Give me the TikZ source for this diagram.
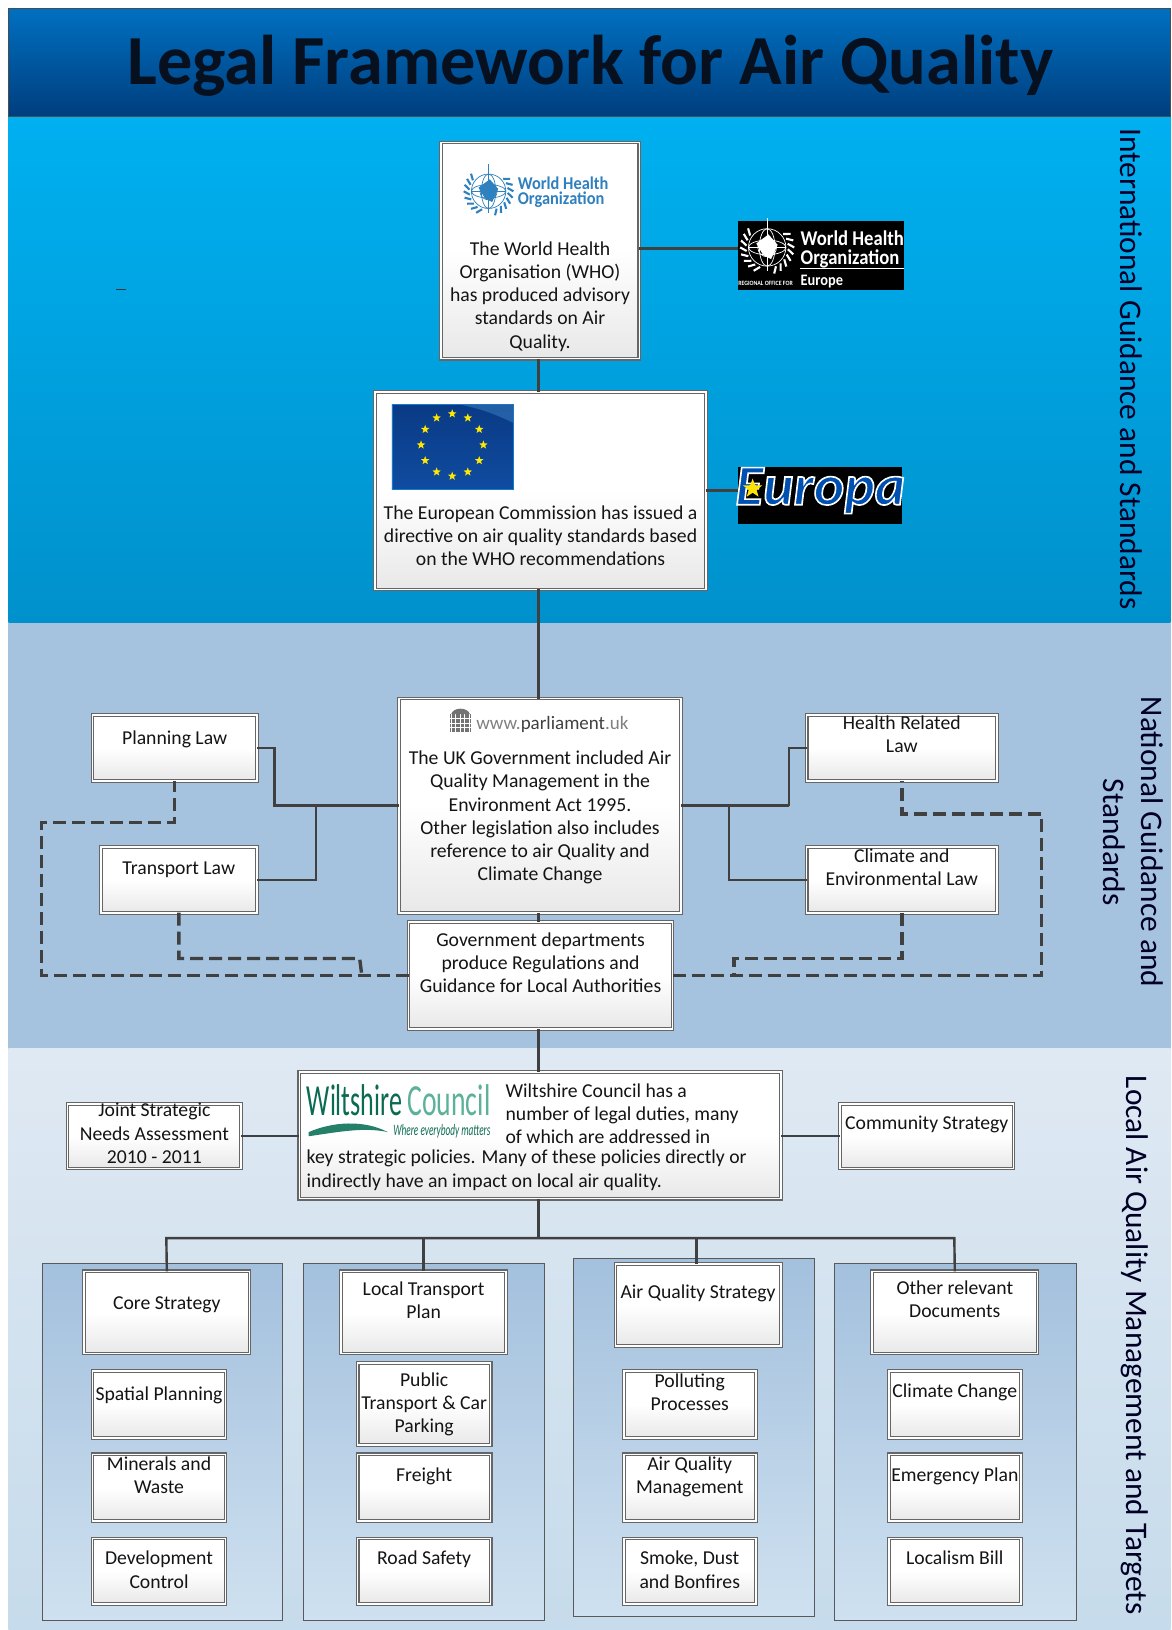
\documentclass[tikz,border=0pt]{standalone}
\usepackage{fontspec}
\usepackage{graphicx}
\setmainfont{Carlito}
\usetikzlibrary{shapes.geometric,calc}
\definecolor{lineg}{HTML}{404040}
\definecolor{txtc}{HTML}{141414}
\definecolor{whob}{HTML}{2E80BE}
\definecolor{wgreen}{HTML}{0B6B52}
\definecolor{wlight}{HTML}{5DB19A}
\definecolor{cHa}{HTML}{0070C0}
\definecolor{cHb}{HTML}{003E7E}
\definecolor{cBa}{HTML}{00B0F0}
\definecolor{cBb}{HTML}{0091CC}
\definecolor{cNat}{HTML}{A5C2DF}
\definecolor{cLa}{HTML}{DFE9F3}
\definecolor{cLb}{HTML}{C6DBEB}
\definecolor{cTitle}{HTML}{06101F}
\definecolor{flagA}{HTML}{0A3A85}
\definecolor{flagB}{HTML}{0F4CA0}
\definecolor{flagC}{HTML}{2F6FB5}
\definecolor{cTop}{HTML}{A3C0DD}
\definecolor{cBot}{HTML}{CFE1F0}
\definecolor{boxln}{HTML}{666666}
\tikzset{
  boxs/.style={anchor=north west,inner sep=0pt,outer sep=0pt,draw=boxln,line width=1.1pt,double=white,double distance=1.6pt,
    top color=white,bottom color=black!9,middle color=white,text=txtc,font=\fontsize{19.7}{23.3}\selectfont},
  conn/.style={draw=lineg,line width=2.4pt},
  dsh/.style={draw=lineg,line width=3.4pt,dash pattern=on 13pt off 6pt},
  sidelab/.style={rotate=-90,font=\fontsize{31.4}{37.5}\selectfont,text=black!85!blue,align=center,inner sep=0pt},
}
\newcommand\bx[7]{%
  \pgfmathsetlengthmacro\bw{(#4-#2)*1.03993}%
  \pgfmathsetlengthmacro\bh{(#5-#3)*1.03993}%
  \pgfmathsetlengthmacro\bo{(#6-#3-9.3)*1.03993}%
  \node[boxs] (#1) at (#2,#3) {\begin{minipage}[c][\bh][t]{\bw}\centering\vspace*{\bo}\strut #7\end{minipage}};}
\newcommand\contbox[4]{%
  \shade[top color=cTop,bottom color=cBot,draw=black!65,line width=.8pt] (#1,#2) rectangle (#3,#4);}
\newcommand\globe[4]{%
  \begin{scope}[shift={(#1,#2)},draw=#4,line width=.7pt]
    \draw (0,0) circle ({#3*.72});
    \draw (0,0) ellipse ({#3*.72} and {#3*.28});
    \draw (0,0) ellipse ({#3*.3} and {#3*.72});
    \draw (0,0) circle ({#3*.36});
    \draw (-#3*.72,0) -- (#3*.72,0);
    \draw (0,-#3*1.12) -- (0,#3*.9);
    \fill[#4] (-#3*.42,-#3*.15) -- (#3*.05,-#3*.5) -- (#3*.4,-#3*.1) -- (#3*.15,#3*.45) -- (-#3*.15,#3*.3) -- cycle;
    \foreach \a in {-40,-25,...,70,110,125,...,220}{
      \draw[line width=2.1pt] (\a:#3*.8) -- ({\a+10}:#3*1.04);
    }
  \end{scope}}
\begin{document}
\begin{tikzpicture}[x=1.03993pt,y=-1.03993pt]
\useasboundingbox (0,0) rectangle (1127,1568);
\fill[white] (0,0) rectangle (1127,1568);
% bands
\shade[top color=cHa,bottom color=cHb] (8,8) rectangle (1126,112);
\shade[top color=cBa,bottom color=cBb] (8,112) rectangle (1126,599);
\fill[cNat] (8,599) rectangle (1126,1009);
\shade[top color=cLa,bottom color=cLb] (8,1009) rectangle (1126,1568);
\draw[black!70,line width=.6pt] (8,8) rectangle (1126,112);
\node[font=\fontsize{70.4}{80}\selectfont\bfseries,text=cTitle,inner sep=0pt] (title) at (568,63) {Legal Framework for Air Quality};
\draw[black!80,line width=.6pt] (112,278) -- (121,278);
% side labels
\node[sidelab] (sideA) at (1088,355) {International Guidance and Standards};
\node[sidelab] (sideB) at (1090,810) {National Guidance and\\Standards};
\node[sidelab] (sideC) at (1092,1294) {Local Air Quality Management and Targets};
% containers
\contbox{41}{1215}{272}{1559}
\contbox{292}{1215}{524}{1559}
\contbox{552}{1211}{783}{1555}
\contbox{803}{1215}{1035}{1559}
% top boxes
\bx{who}{424}{137}{615}{345}{239}{The World Health\\Organisation (WHO)\\has produced advisory\\standards on Air\\Quality.}
\fill[white] (428,141) rectangle (611,215);
\globe{470}{184}{23}{whob}
\node[inner sep=0pt,text=whob,font=\fontsize{18}{15.6}\selectfont\bfseries,align=left,anchor=west] (whotxt) at (498,185) {\scalebox{.91}[1]{World Health}\\\scalebox{.91}[1]{Organization}};
\bx{eu}{361}{377}{679}{567}{493}{The European Commission has issued a\\directive on air quality standards based\\on the WHO recommendations}
\shade[top color=flagA,bottom color=flagB,draw=cyan!60!blue,line width=.8pt] (377,389) rectangle (494,471);
\fill[flagC,opacity=.7] (442,389) -- (494,389) -- (494,407) .. controls (470,395) and (455,392) .. (442,389);
\foreach \a in {0,30,...,330}{
  \node[star,star points=5,star point ratio=2.4,fill=yellow!90!orange,inner sep=0pt,minimum size=9pt] (st\a) at ($(435,428)+(\a:30)$) {};
}
% logos
\fill[black] (710,213) rectangle (870,279);
\coordinate (whoLogoW) at (710,239);
\globe{738}{238}{25}{white}
\node[inner sep=0pt,text=white,font=\fontsize{21}{19.5}\selectfont\bfseries,align=left,anchor=west] (whoEtxt) at (770,240) {\scalebox{.89}[1]{World Health}\\\scalebox{.89}[1]{Organization}};
\draw[white,line width=.5pt] (770,258) -- (870,258);
\node[inner sep=0pt,text=white,font=\fontsize{6.5}{8}\selectfont\bfseries,anchor=west] (whoEreg) at (710,273) {\scalebox{.9}[1]{REGIONAL OFFICE FOR}};
\node[inner sep=0pt,text=white,font=\fontsize{16}{16}\selectfont\bfseries,anchor=west] (whoEeur) at (770,271) {\scalebox{.9}[1]{Europe}};
\fill[black] (710,449) rectangle (868,504);
\node[inner sep=0pt,text=blue!55!cyan!70!black,font=\fontsize{56}{56}\selectfont\bfseries\itshape,anchor=center] (europa) at (789,472) {\special{pdf:code 2 Tr 1.6 w 1 1 1 RG}\scalebox{1.03}[1.02]{Europa}\special{pdf:code 0 Tr}};
\node[star,star points=5,star point ratio=2.4,fill=yellow!85!orange,inner sep=0pt,minimum size=20pt] (eustar) at (724,470) {};
% national
\bx{parl}{384}{672}{655}{878}{729}{The UK Government included Air\\Quality Management in the\\Environment Act 1995.\\Other legislation also includes\\reference to air Quality and\\Climate Change}
\fill[black!55] (433,687) rectangle (453,704);
\foreach \i in {0,1,2,3,4}{\draw[white,line width=.5pt] (434+\i*4.3,687) -- (434+\i*4.3,704);}
\foreach \i in {1,2,3}{\draw[white,line width=.5pt] (433,687+\i*4.2) -- (453,687+\i*4.2);}
\fill[black!55] (434,687) .. controls (436,680) and (450,680) .. (452,687) -- cycle;
\node[inner sep=0pt,anchor=west,font=\fontsize{19}{20}\selectfont,text=black!50] (parlurl) at (458,697) {www.\textcolor{black!75}{parliament}.uk};
\bx{gov}{393}{887}{647}{990}{904}{Government departments\\produce Regulations and\\Guidance for Local Authorities}
\bx{plan}{89}{688}{247}{751}{710}{Planning Law}
\bx{trans}{97}{815}{247}{878}{835}{Transport Law}
\bx{health}{776}{688}{959}{751}{695}{Health Related\\Law}
\bx{clim}{776}{815}{959}{878}{823}{Climate and\\Environmental Law}
% local
\bx{wilts}{288}{1031}{751}{1153}{1049}{\leftskip=7.3pt\rightskip=0pt plus 1fil\hspace*{199pt}Wiltshire Council has a\\\hspace*{199pt}number of legal duties, many\\\hspace*{199pt}of which are addressed in\\[-3.2pt]key strategic policies. Many of these policies directly or\\indirectly have an impact on local air quality.}
\node[inner sep=0pt,anchor=west,font=\fontsize{42}{42}\selectfont,text=wgreen] (w1) at (295,1058) {\scalebox{.62}[1.06]{Wiltshire}};
\node[inner sep=0pt,anchor=east,font=\fontsize{42}{42}\selectfont,text=wlight] (w2) at (472,1058) {\scalebox{.66}[1.06]{Council}};
\fill[wgreen!70!wlight] (297,1089) .. controls (320,1079) and (350,1077) .. (373,1089) .. controls (350,1084) and (325,1089) .. (297,1093) -- cycle;
\node[inner sep=0pt,anchor=east,font=\fontsize{16}{16}\selectfont\itshape,text=wgreen] (w3) at (472,1088) {\scalebox{.58}[1]{Where everybody matters}};
\bx{joint}{65}{1062}{232}{1124}{1068}{Joint Strategic\\Needs Assessment\\2010 - 2011}
\bx{comm}{808}{1062}{975}{1124}{1080}{Community Strategy}
\bx{core}{81}{1223}{240}{1302}{1253}{Core Strategy}
\bx{spatial}{89}{1319}{217}{1383}{1341}{Spatial Planning}
\bx{miner}{89}{1399}{217}{1463}{1408}{Minerals and\\Waste}
\bx{dev}{89}{1480}{217}{1543}{1499}{Development\\Control}
\bx{ltp}{328}{1223}{487}{1302}{1240}{Local Transport\\Plan}
\bx{pub}{344}{1311}{472}{1390}{1327}{Public\\Transport \& Car\\Parking}
\bx{freight}{344}{1399}{472}{1463}{1419}{Freight}
\bx{road}{344}{1480}{472}{1543}{1499}{Road Safety}
\bx{aqs}{592}{1216}{751}{1295}{1243}{Air Quality Strategy}
\bx{poll}{600}{1319}{727}{1383}{1328}{Polluting\\Processes}
\bx{aqm}{600}{1399}{727}{1463}{1408}{Air Quality\\Management}
\bx{smoke}{600}{1480}{727}{1543}{1499}{Smoke, Dust\\and Bonfires}
\bx{other}{839}{1223}{998}{1302}{1239}{Other relevant\\Documents}
\bx{cchg}{855}{1319}{982}{1383}{1338}{Climate Change}
\bx{emer}{855}{1399}{982}{1463}{1419}{Emergency Plan}
\bx{local}{855}{1480}{982}{1543}{1499}{Localism Bill}
% connector helper points
\coordinate (sp) at (518,0);
\coordinate (jl) at (304,775);
\coordinate (jh) at (759,775);
\coordinate (jr) at (701,775);
\coordinate (trunk) at (518,1191);
\coordinate (dlc) at (40,791);
\coordinate (drc) at (1002,783);
\coordinate (dt) at (346,922);
\coordinate (dtb) at (348,938);
\coordinate (dc) at (706,922);
\coordinate (dcb) at (706,938);
\coordinate (cA) at (160,1191);
\coordinate (cD) at (918,1191);
\coordinate (aqsD) at (670,1191);
% solid connectors
\draw[conn] ([yshift=2pt]who.east) -- ([yshift=2pt]who.east -| whoLogoW);
\draw[conn] (who.south -| sp) -- (eu.north -| sp);
\draw[conn] (eu.east) -- (eu.east -| whoLogoW);
\draw[conn] (eu.south -| sp) -- (parl.north -| sp);
\draw[conn] (parl.south -| sp) -- (gov.north -| sp);
\draw[conn] (gov.south -| sp) -- (wilts.north -| sp);
\draw[conn] (plan.east) -- ++(17,0) |- (parl.west);
\draw[conn] (trans.east) -| (jl);
\draw[conn] (parl.east) -- (jh);
\draw[conn] (health.west) -| (jh);
\draw[conn] (clim.west) -| (jr);
\draw[conn] (joint.east) -- (joint.east -| wilts.west);
\draw[conn] (comm.west) -- (comm.west -| wilts.east);
\draw[conn] (wilts.south -| sp) -- (trunk);
\draw[conn] (core.north) -- (cA) -- (cD) -- (other.north);
\draw[conn] (ltp.north) -- (ltp.north |- trunk);
\draw[conn] (aqs.north -| aqsD) -- (aqsD);
% dashed connectors
\draw[dsh] (gov.west) -| (dlc) -- (plan.south |- dlc) -- (plan.south);
\draw[dsh] (trans.south) |- (dt) -- (dtb);
\draw[dsh] (gov.east) -| (drc) -- (health.south |- drc) -- (health.south);
\draw[dsh] (clim.south) |- (dc) -- (dcb);
\end{tikzpicture}
\end{document}
